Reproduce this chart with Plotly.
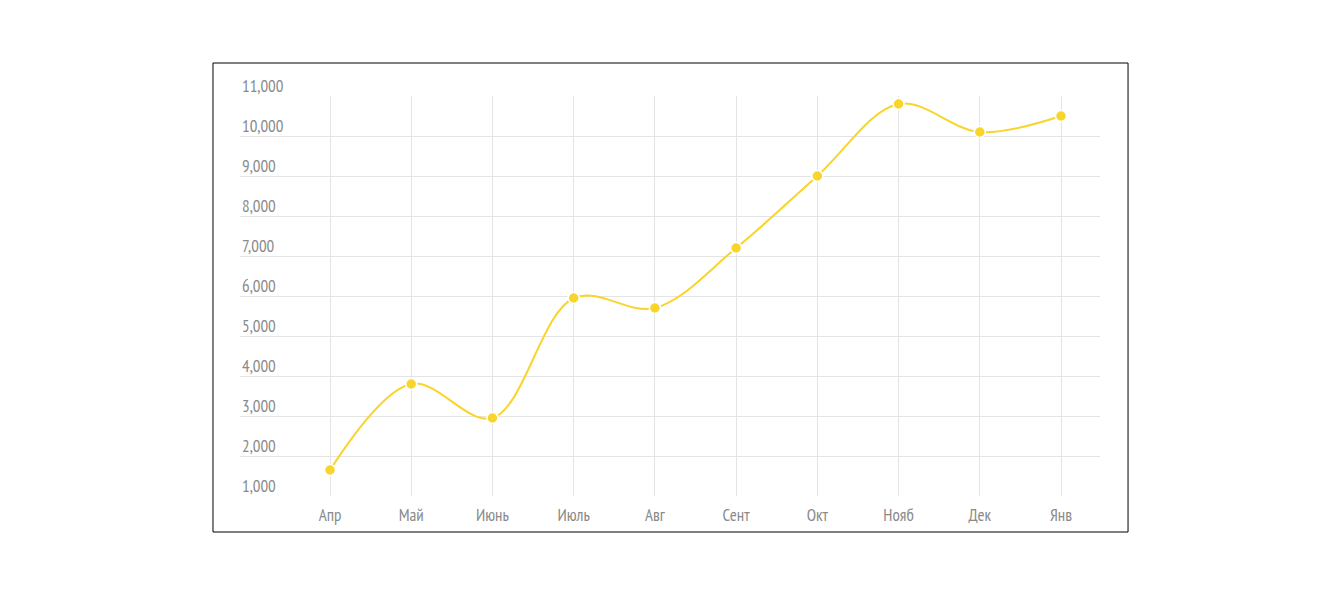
import plotly.graph_objects as go

months = ["Апр", "Май", "Июнь", "Июль", "Авг", "Сент", "Окт", "Нояб", "Дек", "Янв"]
values = [1650, 3800, 2950, 5950, 5700, 7200, 9000, 10800, 10100, 10500]
y_ticks = [1000, 2000, 3000, 4000, 5000, 6000, 7000, 8000, 9000, 10000, 11000]

FONT = "Liberation Sans Narrow, Arial Narrow, PT Sans Narrow, sans-serif"
LINE_COLOR = "#F9D42A"
TEXT_COLOR = "#8a8a8a"
GRID_COLOR = "#e4e4e4"

fig = go.Figure()
fig.add_trace(go.Scatter(
    x=list(range(len(months))), y=values,
    mode="lines+markers",
    line=dict(color=LINE_COLOR, width=2, shape="spline", smoothing=1),
    marker=dict(size=11, color=LINE_COLOR, line=dict(color="white", width=1.5)),
    hoverinfo="x+y",
))

for v in y_ticks:
    fig.add_annotation(
        xref="x domain", x=0, yref="y", y=v, yshift=10,
        text=f"{v:,}", showarrow=False, xanchor="left", yanchor="middle",
        font=dict(family=FONT, size=17, color=TEXT_COLOR),
    )

# frame
fig.add_shape(type="rect", xref="paper", yref="paper",
              x0=-0.0314, x1=1.0326, y0=-0.09, y1=1.0825,
              line=dict(color="black", width=1), fillcolor="rgba(0,0,0,0)", layer="below")

fig.update_layout(
    width=1340, height=598,
    margin=dict(l=232, r=248, t=88, b=110),
    paper_bgcolor="white", plot_bgcolor="white",
    showlegend=False,
    xaxis=dict(
        range=[-1.108, 9.48],
        tickmode="array", tickvals=list(range(len(months))), ticktext=months,
        showgrid=True, gridcolor=GRID_COLOR, gridwidth=1,
        zeroline=False, showline=False, ticks="",
        tickfont=dict(family=FONT, size=17, color=TEXT_COLOR),
        ticklabelstandoff=7,
        fixedrange=True,
    ),
    yaxis=dict(
        range=[1000, 11000],
        tickmode="array", tickvals=y_ticks,
        showticklabels=False,
        showgrid=True, gridcolor=GRID_COLOR, gridwidth=1,
        zeroline=False, showline=False, ticks="",
        fixedrange=True,
    ),
)

fig.write_html("out.html")
